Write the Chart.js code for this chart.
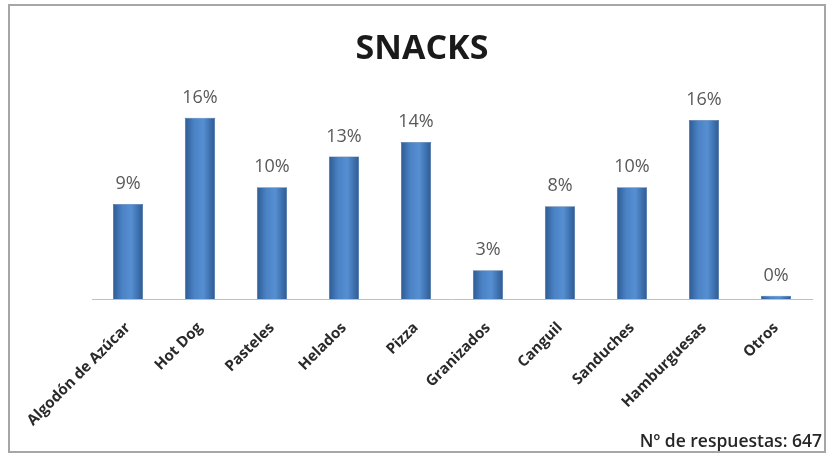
<!DOCTYPE html>
<html>
<head>
<meta charset="utf-8">
<script src="https://cdn.jsdelivr.net/npm/chart.js@4/dist/chart.umd.min.js"></script>
<style>
  html, body { margin: 0; padding: 0; background: #ffffff; }
  #wrap { width: 827px; height: 455px; position: relative; }
</style>
</head>
<body>
<div id="wrap"><canvas id="c" width="827" height="455"></canvas></div>
<script>
// ---- data ----
const categories = ["Algodón de Azúcar", "Hot Dog", "Pasteles", "Helados", "Pizza",
                    "Granizados", "Canguil", "Sanduches", "Hamburguesas", "Otros"];
const percentages = [8.6, 16.4, 10.1, 12.9, 14.2, 2.6, 8.4, 10.1, 16.2, 0.3];
const chartTitle = "SNACKS";
const footnote = "Nº de respuestas: 647";

const BAR_PCT = 0.42;

function barGradient(context) {
  const chart = context.chart;
  const xs = chart.scales && chart.scales.x;
  if (!xs || context.dataIndex === undefined) return '#4a7fc1';
  const cx = xs.getPixelForValue(context.dataIndex);
  const w = (xs.width / categories.length) * BAR_PCT;
  if (!isFinite(cx) || !isFinite(w) || w <= 0) return '#4a7fc1';
  const g = chart.ctx.createLinearGradient(cx - w / 2, 0, cx + w / 2, 0);
  g.addColorStop(0, '#2d5a94');
  g.addColorStop(0.3, '#4a82c4');
  g.addColorStop(0.6, '#5690d2');
  g.addColorStop(1, '#2d5a94');
  return g;
}

const framePlugin = {
  id: 'frame',
  beforeDraw(chart) {
    const ctx = chart.ctx;
    ctx.save();
    ctx.fillStyle = '#ffffff';
    ctx.fillRect(0, 0, chart.width, chart.height);
    ctx.strokeStyle = '#a6a6a6';
    ctx.lineWidth = 2;
    ctx.strokeRect(9, 5, 816, 447);
    ctx.restore();
  },
  afterDraw(chart) {
    const ctx = chart.ctx;
    ctx.save();
    ctx.font = 'bold 34px "Open Sans"';
    ctx.fillStyle = '#1a1a1a';
    ctx.textAlign = 'center';
    ctx.textBaseline = 'alphabetic';
    ctx.fillText(chartTitle, 422, 59);
    ctx.font = '600 17.5px "Open Sans"';
    ctx.fillStyle = '#262626';
    ctx.textAlign = 'right';
    ctx.fillText(footnote, 822, 447);
    ctx.restore();
  }
};

const valueLabels = {
  id: 'valueLabels',
  afterDatasetsDraw(chart) {
    const ctx = chart.ctx;
    const meta = chart.getDatasetMeta(0);
    ctx.save();
    ctx.font = '18px "Open Sans"';
    ctx.fillStyle = '#595959';
    ctx.textAlign = 'center';
    ctx.textBaseline = 'middle';
    meta.data.forEach((el, i) => {
      ctx.fillText(Math.round(percentages[i]) + '%', el.x, el.y - 20);
    });
    ctx.restore();
  }
};

const chart = new Chart(document.getElementById('c'), {
  type: 'bar',
  data: {
    labels: categories,
    datasets: [{
      data: percentages,
      backgroundColor: barGradient,
      borderColor: '#2b5589',
      borderWidth: 0.5,
      barPercentage: BAR_PCT,
      categoryPercentage: 1.0
    }]
  },
  options: {
    responsive: false,
    animation: false,
    layout: { padding: { left: 92, right: 15, top: 100, bottom: 0 } },
    plugins: {
      legend: { display: false },
      tooltip: { enabled: false },
      title: { display: false }
    },
    scales: {
      y: {
        display: false,
        min: 0,
        max: 18
      },
      x: {
        grid: { display: false },
        border: { display: true, color: '#bfbfbf', width: 1 },
        ticks: {
          minRotation: 45,
          maxRotation: 45,
          autoSkip: false,
          padding: 12,
          color: '#2a2a2a',
          font: { family: 'Open Sans', size: 15, weight: 'bold' }
        },
        afterFit(scale) { scale.height = 156; }
      }
    }
  },
  plugins: [framePlugin, valueLabels]
});
chart.update();
</script>
</body>
</html>
